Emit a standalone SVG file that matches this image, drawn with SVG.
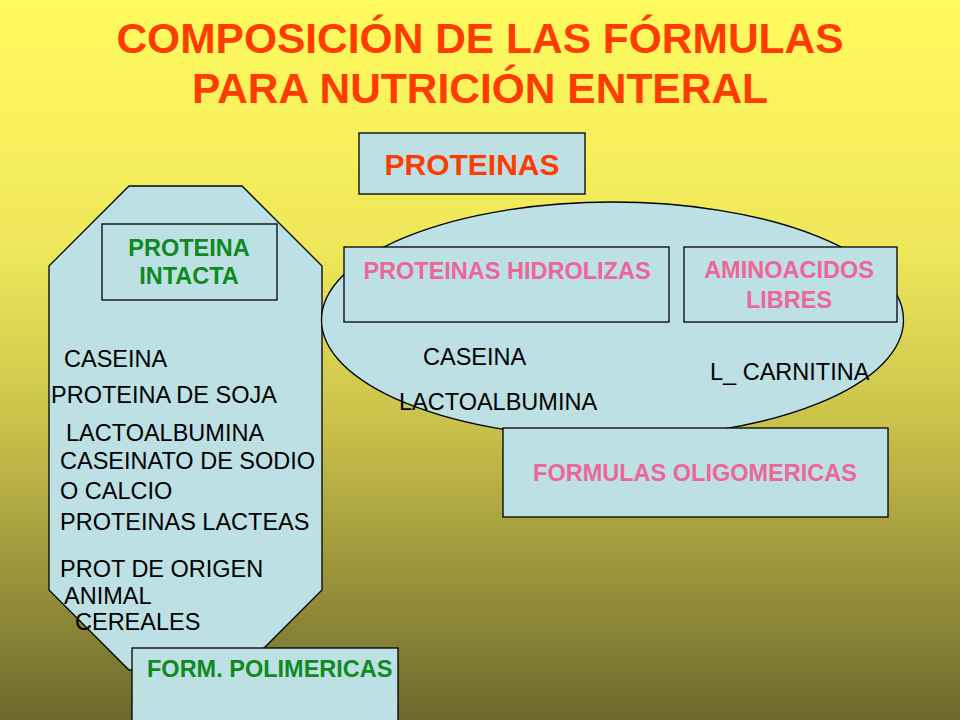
<svg xmlns="http://www.w3.org/2000/svg" width="960" height="720" viewBox="0 0 960 720">
  <defs>
    <linearGradient id="bg" x1="0" y1="0" x2="0" y2="1">
      <stop offset="0" stop-color="#FFFB5E"/>
      <stop offset="0.35" stop-color="#EDE75A"/>
      <stop offset="0.58" stop-color="#CAC34B"/>
      <stop offset="0.8" stop-color="#9A943B"/>
      <stop offset="1" stop-color="#6C682C"/>
    </linearGradient>
    <style>
      .shape { fill: #BCE0E4; stroke: #000; stroke-width: 1.3; }
      .title { font-family: "Liberation Sans", Arial, sans-serif; font-weight: bold; font-size: 42.5px; fill: #FF3C00; text-anchor: middle; }
      .head { font-family: "Liberation Sans", Arial, sans-serif; font-weight: bold; font-size: 30px; fill: #FF3C00; text-anchor: middle; }
      .pink { font-family: "Liberation Sans", Arial, sans-serif; font-weight: bold; font-size: 23.5px; fill: #EE6699; text-anchor: middle; }
      .green { font-family: "Liberation Sans", Arial, sans-serif; font-weight: bold; font-size: 23.5px; fill: #0E8A1E; }
      .item { font-family: "Liberation Sans", Arial, sans-serif; font-size: 23.5px; fill: #000; }
    </style>
  </defs>

  <rect x="0" y="0" width="960" height="720" fill="url(#bg)"/>

  <g id="title">
    <text class="title" x="480" y="53">COMPOSICIÓN DE LAS FÓRMULAS</text>
    <text class="title" x="480" y="103">PARA NUTRICIÓN ENTERAL</text>
  </g>

  <g id="proteinas">
    <rect class="shape" x="359" y="133" width="226" height="61"/>
    <text class="head" x="472" y="175">PROTEINAS</text>
  </g>

  <g id="intacta-group">
    <polygon class="shape" points="129,186 242,186 322,266 322,590 242,670 129,670 49,590 49,266"/>
  </g>

  <g id="proteina-intacta">
    <rect class="shape" x="102" y="224" width="175" height="76"/>
    <text class="green" x="189" y="256" text-anchor="middle">PROTEINA</text>
    <text class="green" x="189" y="284" text-anchor="middle">INTACTA</text>
  </g>

  <g id="intacta-items">
    <text class="item" x="64" y="367">CASEINA</text>
    <text class="item" x="51" y="403">PROTEINA DE SOJA</text>
    <text class="item" x="66" y="441">LACTOALBUMINA</text>
    <text class="item" x="60" y="469">CASEINATO DE SODIO</text>
    <text class="item" x="60" y="499">O CALCIO</text>
    <text class="item" x="60" y="530">PROTEINAS LACTEAS</text>
    <text class="item" x="60" y="577">PROT DE ORIGEN</text>
    <text class="item" x="64" y="604">ANIMAL</text>
    <text class="item" x="75" y="630">CEREALES</text>
  </g>

  <g id="form-polimericas">
    <rect class="shape" x="132" y="648" width="266" height="80"/>
    <text class="green" x="147" y="677">FORM. POLIMERICAS</text>
  </g>

  <g id="hidrolizadas-group">
    <ellipse class="shape" cx="612.5" cy="320" rx="291" ry="118"/>
  </g>

  <g id="proteinas-hidrolizas">
    <rect class="shape" x="344" y="247" width="325" height="75"/>
    <text class="pink" x="507" y="279">PROTEINAS HIDROLIZAS</text>
  </g>

  <g id="aminoacidos-libres">
    <rect class="shape" x="684" y="247" width="213" height="75"/>
    <text class="pink" x="789" y="278">AMINOACIDOS</text>
    <text class="pink" x="789" y="308">LIBRES</text>
  </g>

  <g id="hidrolizadas-items">
    <text class="item" x="423" y="365">CASEINA</text>
    <text class="item" x="399" y="410">LACTOALBUMINA</text>
    <text class="item" x="710" y="380">L_ CARNITINA</text>
  </g>

  <g id="formulas-oligomericas">
    <rect class="shape" x="503" y="428" width="385" height="89"/>
    <text class="pink" x="695" y="481">FORMULAS OLIGOMERICAS</text>
  </g>

  <g id="connectors"/>
</svg>
